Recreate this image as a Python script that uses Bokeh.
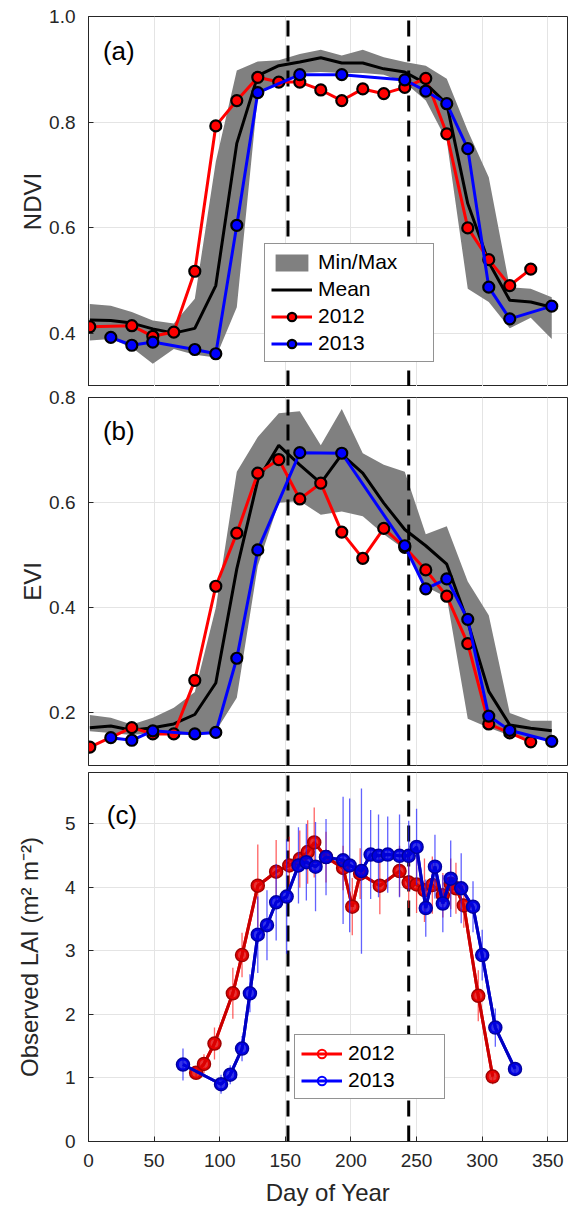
from bokeh.plotting import figure
from bokeh.models import (Range1d, FixedTicker, Legend, LegendItem,
                          NumeralTickFormatter)
from bokeh.layouts import column
from bokeh.embed import file_html
from bokeh.resources import INLINE
from bokeh.core.properties import value

# ---------------- data ----------------
doy16 = [1, 17, 33, 49, 65, 81, 97, 113, 129, 145, 161, 177, 193, 209, 225, 241,
         257, 273, 289, 305, 321, 337, 353]

ndvi_mean = [0.426, 0.425, 0.420, 0.409, 0.401, 0.410, 0.491, 0.760, 0.888, 0.907,
             0.914, 0.922, 0.912, 0.912, 0.901, 0.895, 0.873, 0.835, 0.646, 0.535,
             0.463, 0.460, 0.450]
ndvi_max = [0.456, 0.453, 0.441, 0.425, 0.419, 0.466, 0.725, 0.898, 0.915, 0.917,
            0.929, 0.937, 0.926, 0.937, 0.923, 0.914, 0.907, 0.882, 0.784, 0.696,
            0.488, 0.485, 0.469]
ndvi_min = [0.387, 0.390, 0.374, 0.343, 0.371, 0.360, 0.355, 0.450, 0.850, 0.875,
            0.893, 0.895, 0.893, 0.893, 0.890, 0.875, 0.841, 0.765, 0.485, 0.460,
            0.410, 0.430, 0.390]

doy_2012 = [1, 33, 49, 65, 81, 97, 113, 129, 145, 161, 177, 193, 209, 225, 241, 257,
            273, 289, 305, 321, 337]
ndvi_2012 = [0.413, 0.415, 0.395, 0.403, 0.518, 0.793, 0.841, 0.885, 0.876, 0.876,
             0.861, 0.841, 0.863, 0.854, 0.866, 0.883, 0.778, 0.600, 0.540, 0.491, 0.522]
doy_2013 = [17, 33, 49, 81, 97, 113, 129, 161, 193, 241, 257, 273, 289, 305, 321, 353]
ndvi_2013 = [0.393, 0.378, 0.384, 0.370, 0.362, 0.605, 0.856, 0.890, 0.890, 0.880,
             0.859, 0.835, 0.750, 0.488, 0.428, 0.452]

evi_mean = [0.172, 0.175, 0.167, 0.172, 0.179, 0.197, 0.257, 0.474, 0.643, 0.709,
            0.672, 0.637, 0.692, 0.656, 0.599, 0.549, 0.518, 0.483, 0.373, 0.241,
            0.177, 0.171, 0.166]
evi_max = [0.196, 0.191, 0.178, 0.191, 0.210, 0.240, 0.400, 0.659, 0.725, 0.770,
           0.774, 0.709, 0.778, 0.694, 0.672, 0.659, 0.540, 0.555, 0.450, 0.386,
           0.200, 0.185, 0.185]
evi_min = [0.165, 0.162, 0.158, 0.162, 0.157, 0.160, 0.165, 0.229, 0.480, 0.600,
           0.603, 0.577, 0.583, 0.574, 0.540, 0.511, 0.440, 0.420, 0.189, 0.172,
           0.157, 0.151, 0.153]
evi_2012 = [0.135, 0.172, 0.160, 0.160, 0.262, 0.441, 0.542, 0.656, 0.682, 0.607,
            0.637, 0.544, 0.494, 0.551, 0.515, 0.472, 0.422, 0.332, 0.179, 0.162, 0.145]
evi_2013 = [0.153, 0.148, 0.166, 0.160, 0.163, 0.304, 0.510, 0.695, 0.694, 0.518,
            0.436, 0.455, 0.378, 0.194, 0.167, 0.146]

lai_doy_2012 = [82, 88, 96, 110, 117, 129, 143, 153, 161, 167, 172, 181, 194, 201, 207,
                222, 237, 244, 250, 256, 262, 270, 276, 280, 286, 297, 308]
lai_2012 = [1.08, 1.22, 1.54, 2.33, 2.93, 4.02, 4.24, 4.34, 4.44, 4.55, 4.70, 4.47,
            4.30, 3.69, 4.21, 4.02, 4.25, 4.07, 4.04, 3.95, 4.03, 3.87, 4.05, 3.98,
            3.71, 2.29, 1.02]
lai_sd_2012 = [0.10, 0.15, 0.25, 0.40, 0.35, 0.65, 0.50, 0.45, 0.45, 0.50, 0.55, 0.40,
               0.35, 0.45, 0.40, 0.45, 0.40, 0.40, 0.45, 0.50, 0.45, 0.35, 0.40, 0.40,
               0.35, 0.40, 0.12]
lai_doy_2013 = [72, 101, 108, 117, 123, 129, 136, 143, 151, 160, 166, 173, 181, 194,
                199, 208, 215, 221, 228, 237, 244, 250, 257, 264, 270, 276, 284, 293,
                300, 310, 325]
lai_2013 = [1.21, 0.90, 1.05, 1.46, 2.33, 3.25, 3.40, 3.76, 3.85, 4.34, 4.39, 4.32,
            4.47, 4.42, 4.34, 4.25, 4.51, 4.49, 4.51, 4.49, 4.49, 4.63, 3.67, 4.32,
            3.74, 4.13, 3.98, 3.69, 2.93, 1.79, 1.14]
lai_sd_2013 = [0.25, 0.15, 0.15, 0.20, 0.30, 0.60, 0.55, 0.60, 0.90, 0.60, 0.60, 0.70,
               0.60, 1.00, 1.05, 1.30, 0.70, 0.65, 0.60, 0.65, 0.55, 0.60, 0.45, 0.50,
               0.45, 0.60, 0.55, 0.40, 0.40, 0.30, 0.10]

season_bounds = [152, 244]
x_ticks = [0, 50, 100, 150, 200, 250, 300, 350]

# ---------------- style ----------------
FONT = "Liberation Sans"
AX = "#262626"
GRID = "#e4e4e4"


def make_fig(yr, yticks, fmt, ylabel, lab_standoff, h, top, bottom, show_x):
    p = figure(width=569, height=h, x_range=Range1d(0, 365),
               y_range=Range1d(*yr), output_backend="svg", toolbar_location=None,
               min_border_left=88, min_border_right=2, min_border_top=top,
               min_border_bottom=bottom)
    p.background_fill_color = "white"
    p.border_fill_color = "white"
    p.outline_line_color = AX
    xt = FixedTicker(ticks=x_ticks)
    yt = FixedTicker(ticks=yticks)
    p.xaxis.ticker = xt
    p.yaxis.ticker = yt
    p.xgrid.ticker = xt
    p.ygrid.ticker = yt
    p.grid.grid_line_color = GRID
    p.grid.grid_line_width = 1
    p.yaxis.formatter = NumeralTickFormatter(format=fmt)
    for ax in p.axis:
        ax.axis_line_color = AX
        ax.major_tick_line_color = AX
        ax.minor_tick_line_color = None
        ax.major_tick_in = 5
        ax.major_tick_out = 0
        ax.major_label_text_font = FONT
        ax.major_label_text_font_size = "19px"
        ax.major_label_text_color = AX
        ax.axis_label_text_font = FONT
        ax.axis_label_text_font_size = "24px"
        ax.axis_label_text_font_style = "normal"
        ax.axis_label_text_color = AX
    p.yaxis.major_label_standoff = 13
    p.yaxis.axis_label = ylabel
    p.yaxis.axis_label_standoff = lab_standoff
    if show_x:
        p.xaxis.major_label_standoff = 12
        p.xaxis.axis_label = "Day of Year"
        p.xaxis.axis_label_standoff = 9
    else:
        p.xaxis.visible = False
    return p


def season_lines(p, y0, y1):
    p.segment(x0=season_bounds, y0=[y0] * 2, x1=season_bounds, y1=[y1] * 2,
              line_color="black", line_width=3, line_dash="16 9")


def vi_panel(p, mean, vmin, vmax, v12, v13, ylo, yhi):
    band = p.varea(x=doy16, y1=vmin, y2=vmax, fill_color="#808080", fill_alpha=1)
    season_lines(p, ylo, yhi)
    mline = p.line(doy16, mean, line_color="black", line_width=3)
    l12 = p.line(doy_2012, v12, line_color="#ff0000", line_width=3)
    s12 = p.scatter(doy_2012, v12, size=11, fill_color="#ff0000",
                    line_color="black", line_width=2.2)
    l13 = p.line(doy_2013, v13, line_color="#0000ff", line_width=3)
    s13 = p.scatter(doy_2013, v13, size=11, fill_color="#0000ff",
                    line_color="black", line_width=2.2)
    return band, mline, (l12, s12), (l13, s13)


def panel_label(p, x, y, txt):
    p.text(x=[x], y=[y], text=[txt], text_font=value(FONT), text_font_size="26px",
           text_color="black", text_baseline="middle", text_align="left")


# ---------------- panel (a) ----------------
pa = make_fig((0.3, 1.0), [0.4, 0.6, 0.8, 1.0], "0.0", "NDVI", 0, 386, 16, 0, False)
band, mline, r12, r13 = vi_panel(pa, ndvi_mean, ndvi_min, ndvi_max, ndvi_2012,
                                 ndvi_2013, 0.3, 1.0)
panel_label(pa, 11, 0.934, "(a)")
leg_a = Legend(items=[LegendItem(label="Min/Max", renderers=[band]),
                      LegendItem(label="Mean", renderers=[mline]),
                      LegendItem(label="2012", renderers=list(r12)),
                      LegendItem(label="2013", renderers=list(r13))],
               location=(176, 24))

# ---------------- panel (b) ----------------
pb = make_fig((0.1, 0.8), [0.2, 0.4, 0.6, 0.8], "0.0", "EVI", 0, 381, 11, 2, False)
vi_panel(pb, evi_mean, evi_min, evi_max, evi_2012, evi_2013, 0.1, 0.8)
panel_label(pb, 11, 0.737, "(b)")

# ---------------- panel (c) ----------------
pc = make_fig((0, 5.8), [0, 1, 2, 3, 4, 5], "0", "Observed LAI (m² m⁻²)", 19, 443,
              5, 69, True)
season_lines(pc, 0, 5.8)
pc.segment(x0=lai_doy_2012, x1=lai_doy_2012,
           y0=[v - s for v, s in zip(lai_2012, lai_sd_2012)],
           y1=[v + s for v, s in zip(lai_2012, lai_sd_2012)],
           line_color="#ff2020", line_width=1.3, line_alpha=0.7)
lg12_l = pc.line(lai_doy_2012, lai_2012, line_color="#ff0000", line_width=3)
pc.line(lai_doy_2012, lai_2012, line_color="#c80000", line_width=3)
lg12_s = pc.scatter(lai_doy_2012, lai_2012, size=10, fill_color=None,
                    line_color="#ff0000", line_width=2)
pc.scatter(lai_doy_2012, lai_2012, size=13, fill_color="#e00000", fill_alpha=0.8,
           line_color="#a00000", line_width=1.5)
pc.segment(x0=lai_doy_2013, x1=lai_doy_2013,
           y0=[v - s for v, s in zip(lai_2013, lai_sd_2013)],
           y1=[v + s for v, s in zip(lai_2013, lai_sd_2013)],
           line_color="#2020ff", line_width=1.3, line_alpha=0.7)
lg13_l = pc.line(lai_doy_2013, lai_2013, line_color="#0000ff", line_width=3)
pc.line(lai_doy_2013, lai_2013, line_color="#0000c0", line_width=3)
lg13_s = pc.scatter(lai_doy_2013, lai_2013, size=10, fill_color=None,
                    line_color="#0000ff", line_width=2)
pc.scatter(lai_doy_2013, lai_2013, size=13, fill_color="#0000e0", fill_alpha=0.8,
           line_color="#0000a0", line_width=1.5)
panel_label(pc, 14, 5.13, "(c)")

leg_c = Legend(items=[LegendItem(label="2012", renderers=[lg12_l, lg12_s]),
                      LegendItem(label="2013", renderers=[lg13_l, lg13_s])],
               location=(206, 42))

for lg, lw in [(leg_a, 109), (leg_c, 90)]:
    lg.label_text_font = FONT
    lg.label_text_font_size = "21px"
    lg.label_text_color = "black"
    lg.glyph_width = 41
    lg.glyph_height = 21
    lg.label_height = 21
    lg.label_width = lw
    lg.label_standoff = 6
    lg.spacing = 3
    lg.padding = 6
    lg.margin = 0
    lg.border_line_color = AX
    lg.border_line_width = 1
    lg.background_fill_color = "white"
    lg.background_fill_alpha = 1

pa.add_layout(leg_a)
pc.add_layout(leg_c)

layout = column(pa, pb, pc, spacing=0)
open("out.html", "w").write(file_html(layout, INLINE))
